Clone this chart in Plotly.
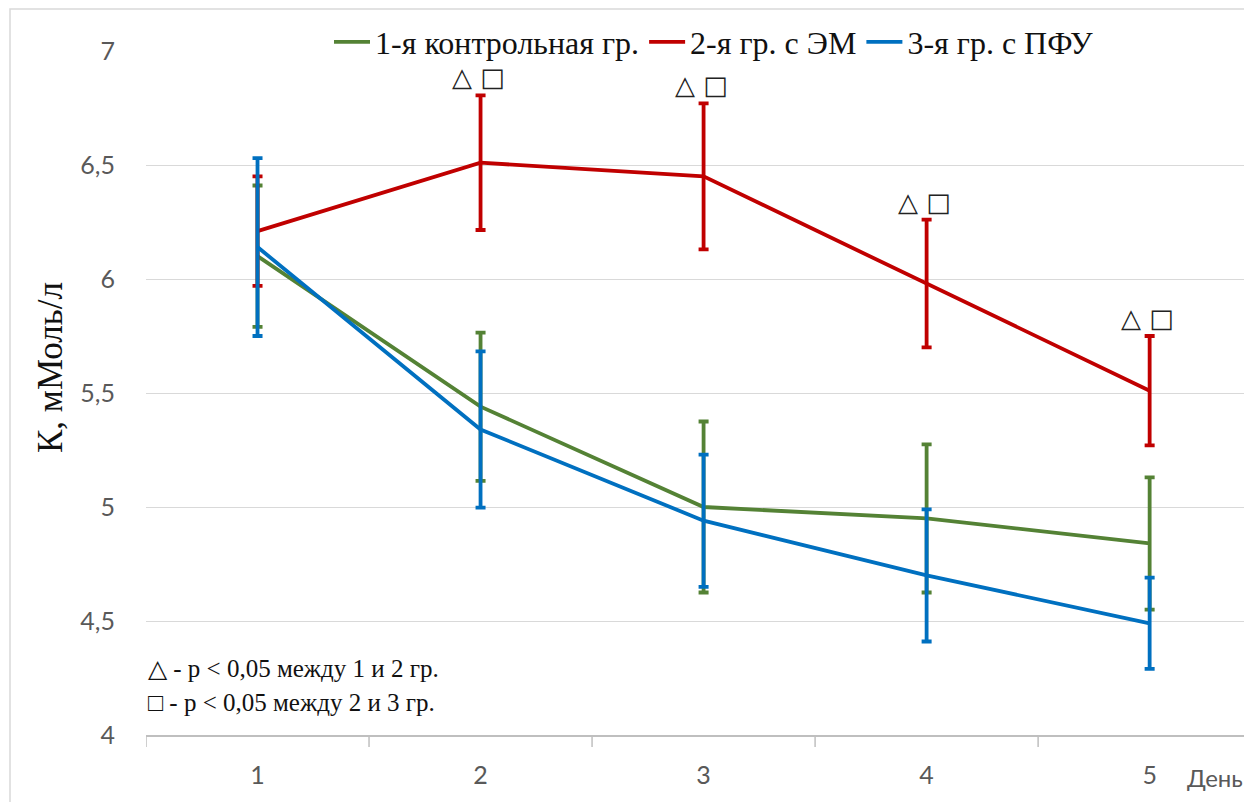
import plotly.graph_objects as go

days = [1, 2, 3, 4, 5]
day_labels = ["1", "2", "3", "4", "5"]

y_ticks = [4, 4.5, 5, 5.5, 6, 6.5, 7]
y_tick_labels = ["4", "4,5", "5", "5,5", "6", "6,5", "7"]

g1_name = "1-я контрольная гр."
g1_mean = [6.10, 5.44, 5.00, 4.95, 4.84]
g1_err = [0.31, 0.325, 0.375, 0.325, 0.29]

g2_name = "2-я гр. с ЭМ"
g2_mean = [6.21, 6.51, 6.45, 5.98, 5.51]
g2_err = [0.24, 0.295, 0.32, 0.28, 0.24]

g3_name = "3-я гр. с ПФУ"
g3_mean = [6.14, 5.34, 4.94, 4.70, 4.49]
g3_err = [0.39, 0.343, 0.29, 0.29, 0.20]

sig_days = [2, 3, 4, 5]
sig_text = "△ □"

colors = ["#548235", "#C00000", "#0070C0"]

# page body has an 8px margin; compensate so the plot area lands at page px 146..1250 x 51..735
OFF = 8
W, H = 1244, 794
L, R, T, B = 146 - OFF, 2, 51 - OFF, 67
PW, PH = W - L - R, H - T - B


def px_x(p):  # page pixel -> paper x
    return (p - OFF - L) / PW


def px_y(p):  # page pixel -> paper y
    return (H - B - (p - OFF)) / PH


fig = go.Figure()
for name, mean, err, col in [(g1_name, g1_mean, g1_err, colors[0]),
                             (g2_name, g2_mean, g2_err, colors[1]),
                             (g3_name, g3_mean, g3_err, colors[2])]:
    fig.add_trace(go.Scatter(
        x=days, y=mean, mode="lines", name=name,
        line=dict(color=col, width=3.8),
        error_y=dict(type="data", array=err, visible=True, color=col,
                     thickness=3.8, width=5),
    ))

# significance markers above red error bars
for d in sig_days:
    i = days.index(d)
    fig.add_annotation(x=d, y=g2_mean[i] + g2_err[i], text=sig_text,
                       showarrow=False, yanchor="bottom", yshift=1, xshift=-2,
                       font=dict(family="DejaVu Sans", size=26, color="#222222"))

# notes
fig.add_annotation(xref="paper", yref="paper", x=px_x(146), y=px_y(668),
                   text="△ - p < 0,05 между 1 и 2 гр.", showarrow=False,
                   xanchor="left", yanchor="middle",
                   font=dict(family="Liberation Serif", size=25, color="#111111"))
fig.add_annotation(xref="paper", yref="paper", x=px_x(146), y=px_y(702),
                   text="□ - p < 0,05 между 2 и 3 гр.", showarrow=False,
                   xanchor="left", yanchor="middle",
                   font=dict(family="Liberation Serif", size=25, color="#111111"))
# x axis unit label
fig.add_annotation(xref="paper", yref="paper", x=px_x(1215), y=px_y(777),
                   text="День", showarrow=False, xanchor="center", yanchor="middle",
                   font=dict(family="Lato", size=24, color="#595959"))
# y axis title
fig.add_annotation(xref="paper", yref="paper", x=px_x(50), y=px_y(368),
                   text="К, мМоль/л", showarrow=False, textangle=-90,
                   xanchor="center", yanchor="middle",
                   font=dict(family="Liberation Serif", size=35, color="#111111"))

# outer border
fig.add_shape(type="rect", xref="paper", yref="paper",
              x0=px_x(10), x1=1.05, y0=-0.2, y1=px_y(9),
              line=dict(color="#D9D9D9", width=1.5), fillcolor="rgba(0,0,0,0)", layer="below")

fig.update_layout(
    width=W, height=H,
    margin=dict(l=L, r=R, t=T, b=B, autoexpand=False),
    paper_bgcolor="white", plot_bgcolor="white",
    showlegend=True,
    legend=dict(orientation="h", x=px_x(714), xanchor="center", y=px_y(42), yanchor="middle",
                font=dict(family="Liberation Serif", size=32, color="#111111"),
                itemwidth=36, bgcolor="rgba(0,0,0,0)", tracegroupgap=0),
    xaxis=dict(range=[0.5, 5.45], tickmode="array", tickvals=days, ticktext=day_labels,
               showgrid=False, zeroline=False, showline=True, linecolor="#BFBFBF", linewidth=1.5,
               ticks="", tickfont=dict(family="Lato", size=25, color="#595959"),
               ticklabelstandoff=17, automargin=False),
    yaxis=dict(range=[4, 7], tickmode="array", tickvals=y_ticks, ticktext=y_tick_labels,
               showgrid=True, gridcolor="#D9D9D9", gridwidth=1.2, zeroline=False,
               showline=False, ticks="", ticklabelstandoff=30, automargin=False,
               tickfont=dict(family="Lato", size=25, color="#595959")),
)
# category separator ticks on x axis
for k in range(6):
    fig.add_shape(type="line", xref="x", yref="paper", x0=0.5 + k, x1=0.5 + k,
                  y0=0, y1=-12 / PH, line=dict(color="#BFBFBF", width=1.5))

fig.write_html("out.html")
